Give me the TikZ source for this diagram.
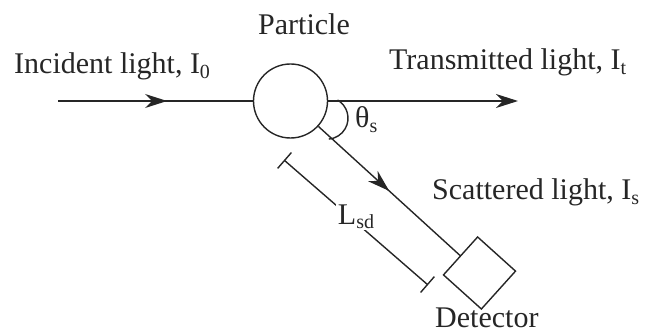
\documentclass[tikz,border=0pt]{standalone}
\usepackage{fontspec}
\setmainfont{Liberation Serif}
\usetikzlibrary{arrows.meta, positioning, decorations.markings}

\newcommand{\lowidx}[1]{\raisebox{-0.3ex}{\fontsize{20}{20}\selectfont #1}}

\begin{document}
\begin{tikzpicture}[
    x=1pt, y=1pt,
    ray/.style={line width=1.4pt, draw=black!85},
    tip/.style={-{Stealth[length=22pt, width=14pt, inset=7pt]}},
    midtip/.style={postaction={decorate}, decoration={markings,
                   mark=at position #1 with {\arrow{Stealth[length=22pt, width=14pt, inset=7pt]}}}},
    lbl/.style={font=\fontsize{30}{32}\selectfont, inner sep=0pt, anchor=base west, text=black!85}
]
\useasboundingbox (0,0) rectangle (646,335);

\node[circle, draw=black!85, line width=1.4pt, minimum size=74pt, inner sep=0pt] (part) at (290.5,234) {};
\node[rectangle, draw=black!85, line width=1.4pt, minimum size=51pt, inner sep=0pt, rotate=48] (det) at (479.5,62) {};

\coordinate (src) at (58,234);
\coordinate (out) at (518,234);

\draw[ray, midtip=0.56] (src) -- (part.west);
\draw[ray, tip] (part.east) -- (out);
\draw[ray, midtip=0.5] (part) -- (det.north);

% scattering angle
\draw[ray] (337.5,235) arc[start angle=60, end angle=-85, radius=21];

% source-detector distance
\coordinate (la) at (284,175);
\coordinate (lb) at (428,50);
\draw[ray, {Bar[width=21pt]}-{Bar[width=21pt]}] (la) -- (lb)
    node[lbl, anchor=center, fill=white, inner sep=2pt, pos=0.5, yshift=6pt] (lsd) {L\lowidx{sd}};

\node[lbl] (inc) at (14,261) {Incident light, I\lowidx{0}};
\node[lbl] (ptl) at (258,300) {Particle};
\node[lbl] (trn) at (389,265) {Transmitted light, I\lowidx{t}};
\node[lbl] (ang) at (355,207) {θ\lowidx{s}};
\node[lbl] (sca) at (432,135) {Scattered light, I\lowidx{s}};
\node[lbl] (dtc) at (435,7) {Detector};
\end{tikzpicture}
\end{document}
